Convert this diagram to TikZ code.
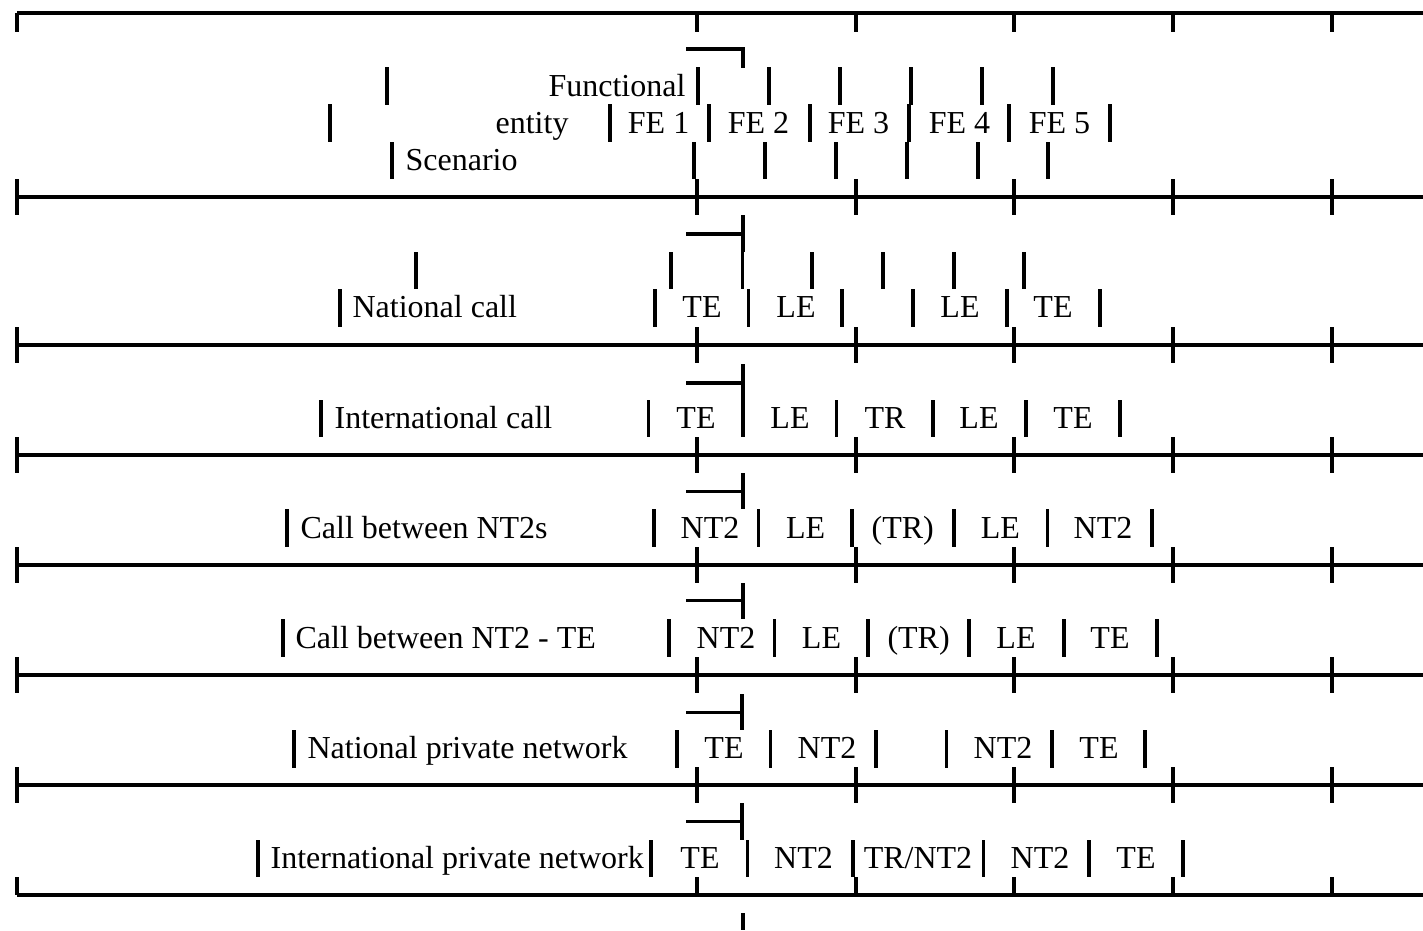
\documentclass[tikz,border=0pt]{standalone}
\usepackage{fontspec}
\setmainfont{Liberation Serif}
\begin{document}
\begin{tikzpicture}[x=1pt,y=-1pt,line width=3.2pt,
  lbl/.style={inner sep=0pt,font=\fontsize{32}{38}\selectfont},
  cell/.style={lbl,anchor=base},
  lead/.style={lbl,anchor=base west}]
\useasboundingbox (0,0) rectangle (1423,930);
% horizontal rules
\foreach \y in {13,197,345,455,565,675,785,895} \draw (17,\y) -- (1423,\y);
% ticks on the rules
\foreach \x in {17,697,856,1014,1173,1332} {
  \draw (\x,13) -- (\x,32);
  \foreach \y in {197,345,455,565,675,785} \draw (\x,\y-18) -- (\x,\y+18);
  \draw (\x,877) -- (\x,895);
}
% header row
\draw[line join=miter] (686,49) -- (743,49) -- (743,68);
\foreach \x in {387,698,769,840,911,982,1053} \draw (\x,67) -- (\x,105);
\foreach \x in {330,610,709,810,909,1009,1110} \draw (\x,104) -- (\x,142);
\foreach \x in {392,694,765,836,907,978,1048} \draw (\x,142) -- (\x,179);
\node[lbl,anchor=base east] (functional) at (687,96.7) {Functional};
\node[lead] (entity) at (494,133) {entity};
\node[cell] (fe1) at (658.6,133) {FE 1};
\node[cell] (fe2) at (758.5,133) {FE 2};
\node[cell] (fe3) at (858.5,133) {FE 3};
\node[cell] (fe4) at (959.5,133) {FE 4};
\node[cell] (fe5) at (1059.5,133) {FE 5};
\node[lead] (scenario) at (404,170) {Scenario};
% row 2: National call
\draw (743,215) -- (743,252);
\draw (686,234) -- (743,234);
\foreach \x in {416,671,742.5,812,883,954,1024} \draw (\x,252) -- (\x,289);
\foreach \x in {340,655,748.6,842,913,1007,1100} \draw (\x,289) -- (\x,327);
\node[lead] (natcall) at (351,317.5) {National call};
\node[cell] (r2a) at (702,317.5) {TE};
\node[cell] (r2b) at (796,317.5) {LE};
\node[cell] (r2d) at (960,317.5) {LE};
\node[cell] (r2e) at (1053,317.5) {TE};
% row 3: International call
\draw (743,364) -- (743,400);
\draw (686,383) -- (743,383);
\foreach \x in {321,648.6,743,836.5,933,1026,1120} \draw (\x,400) -- (\x,437);
\node[lead] (intcall) at (333,428) {International call};
\node[cell] (r3a) at (696,428) {TE};
\node[cell] (r3b) at (790,428) {LE};
\node[cell] (r3c) at (885,428) {TR};
\node[cell] (r3d) at (979,428) {LE};
\node[cell] (r3e) at (1073,428) {TE};
% row 4: Call between NT2s
\draw (743,473) -- (743,509);
\draw (686,491.7) -- (743,491.7);
\foreach \x in {287,654,758.6,852,954,1047.5,1152} \draw (\x,509) -- (\x,547);
\node[lead] (nt2s) at (299,538) {Call between NT2s};
\node[cell] (r4a) at (710,538) {NT2};
\node[cell] (r4b) at (805.6,538) {LE};
\node[cell] (r4c) at (902.7,538) {(TR)};
\node[cell] (r4d) at (1000.4,538) {LE};
\node[cell] (r4e) at (1103,538) {NT2};
% row 5: Call between NT2 - TE
\draw (743,583) -- (743,619);
\draw (686,600.7) -- (743,600.7);
\foreach \x in {283,669,774.6,868,969,1064,1157} \draw (\x,619) -- (\x,657);
\node[lead] (nt2te) at (294,648) {Call between NT2 - TE};
\node[cell] (r5a) at (726,648) {NT2};
\node[cell] (r5b) at (821.5,648) {LE};
\node[cell] (r5c) at (918.6,648) {(TR)};
\node[cell] (r5d) at (1016,648) {LE};
\node[cell] (r5e) at (1110,648) {TE};
% row 6: National private network
\draw (742,694) -- (742,730);
\draw (686,712.8) -- (742,712.8);
\foreach \x in {294,677,770.6,876,946.6,1052,1145} \draw (\x,730) -- (\x,768);
\node[lead] (natpriv) at (306,758.5) {National private network};
\node[cell] (r6a) at (724,758.5) {TE};
\node[cell] (r6b) at (827,758.5) {NT2};
\node[cell] (r6d) at (1003,758.5) {NT2};
\node[cell] (r6e) at (1099,758.5) {TE};
% row 7: International private network
\draw (742,803) -- (742,840);
\draw (686,821.4) -- (742,821.4);
\foreach \x in {258,651,747.7,853,983.6,1089,1183} \draw (\x,840) -- (\x,877);
\node[lead] (intpriv) at (269,868) {International private network};
\node[cell] (r7a) at (700,868) {TE};
\node[cell] (r7b) at (803.5,868) {NT2};
\node[cell] (r7c) at (918,868) {TR/NT2};
\node[cell] (r7d) at (1040,868) {NT2};
\node[cell] (r7e) at (1136,868) {TE};
% bottom stub
\draw (743,913) -- (743,930);
\end{tikzpicture}
\end{document}
